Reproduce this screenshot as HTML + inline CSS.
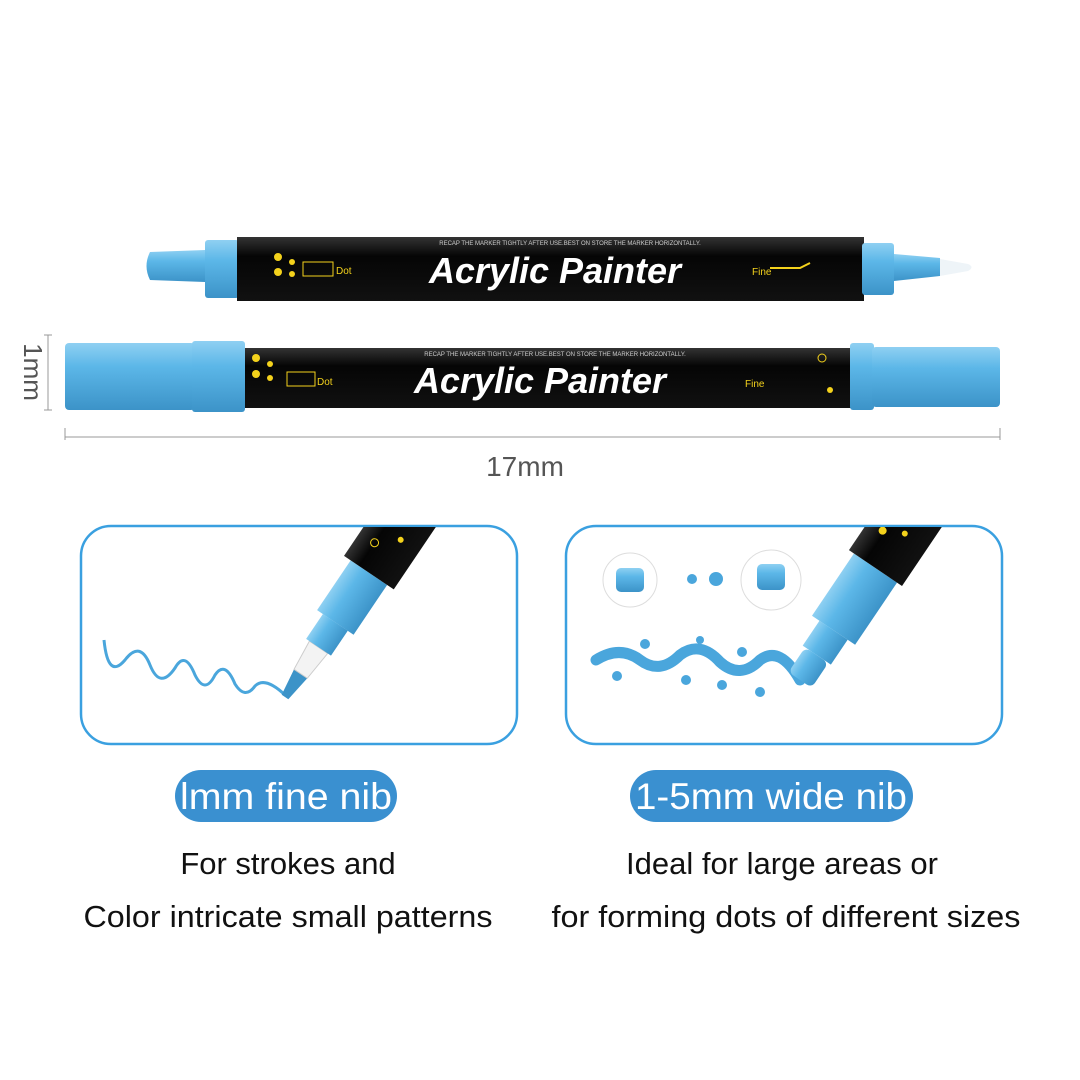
<!DOCTYPE html>
<html><head><meta charset="utf-8"><style>
body{margin:0;background:#fff;}
svg{display:block;}
text{font-family:"Liberation Sans",sans-serif;}
</style></head><body>
<svg width="1080" height="1080" viewBox="0 0 1080 1080" xmlns="http://www.w3.org/2000/svg">
<defs>
<linearGradient id="cap" x1="0" y1="0" x2="0" y2="1">
<stop offset="0" stop-color="#8fd0f2"/><stop offset="0.35" stop-color="#5cb7e8"/><stop offset="1" stop-color="#3c93c8"/></linearGradient>
<linearGradient id="blk" x1="0" y1="0" x2="0" y2="1">
<stop offset="0" stop-color="#333"/><stop offset="0.3" stop-color="#050505"/><stop offset="1" stop-color="#111"/></linearGradient>
<clipPath id="c1"><rect x="0" y="527" width="1080" height="300"/></clipPath>
</defs>
<rect width="1080" height="1080" fill="#fff"/>

<!-- top marker -->
<path d="M150 252 Q143 266 150 280 L205 282 L205 250 Z" fill="url(#cap)"/>
<rect x="205" y="240" width="34" height="58" rx="3" fill="url(#cap)"/>
<rect x="237" y="237" width="627" height="64" fill="url(#blk)"/>
<rect x="862" y="243" width="32" height="52" rx="3" fill="url(#cap)"/>
<path d="M894 254 L940 258 L940 276 L894 281 Z" fill="url(#cap)"/>
<path d="M940 259 L968 264 Q975 267 968 271 L940 276 Z" fill="#eef4f8"/>
<text x="570" y="245" font-size="6" fill="#ccc" text-anchor="middle">RECAP THE MARKER TIGHTLY AFTER USE.BEST ON STORE THE MARKER HORIZONTALLY.</text>
<text x="555" y="283" font-size="36" fill="#fff" font-style="italic" font-family="Liberation Serif" font-weight="bold" text-anchor="middle">Acrylic Painter</text>
<circle cx="278" cy="257" r="4" fill="#f4d21c"/><circle cx="292" cy="262" r="3" fill="#f4d21c"/><circle cx="278" cy="272" r="4" fill="#f4d21c"/><circle cx="292" cy="274" r="3" fill="#f4d21c"/>
<rect x="303" y="262" width="30" height="14" fill="none" stroke="#f4d21c"/><text x="336" y="274" font-size="10" fill="#f4d21c">Dot</text>
<text x="752" y="275" font-size="10" fill="#f4d21c">Fine</text>
<path d="M770 268 L800 268 L810 263" stroke="#f4d21c" fill="none" stroke-width="2"/>

<!-- second marker -->
<rect x="65" y="343" width="130" height="67" rx="4" fill="url(#cap)"/>
<rect x="192" y="341" width="53" height="71" rx="3" fill="url(#cap)"/>
<rect x="245" y="348" width="607" height="60" fill="url(#blk)"/>
<rect x="850" y="343" width="24" height="67" rx="3" fill="url(#cap)"/>
<rect x="872" y="347" width="128" height="60" rx="4" fill="url(#cap)"/>
<text x="555" y="356" font-size="6" fill="#ccc" text-anchor="middle">RECAP THE MARKER TIGHTLY AFTER USE.BEST ON STORE THE MARKER HORIZONTALLY.</text>
<text x="540" y="393" font-size="36" fill="#fff" font-style="italic" font-family="Liberation Serif" font-weight="bold" text-anchor="middle">Acrylic Painter</text>
<circle cx="256" cy="358" r="4" fill="#f4d21c"/><circle cx="270" cy="364" r="3" fill="#f4d21c"/><circle cx="256" cy="374" r="4" fill="#f4d21c"/><circle cx="270" cy="378" r="3" fill="#f4d21c"/>
<rect x="287" y="372" width="28" height="14" fill="none" stroke="#f4d21c"/><text x="317" y="385" font-size="10" fill="#f4d21c">Dot</text>
<text x="745" y="387" font-size="10" fill="#f4d21c">Fine</text>
<circle cx="822" cy="358" r="4" fill="none" stroke="#f4d21c"/><circle cx="830" cy="390" r="3" fill="#f4d21c"/>

<!-- dimensions -->
<path d="M48 335 L48 410 M44 335 L52 335 M44 410 L52 410" stroke="#999" stroke-width="1"/>
<text x="0" y="0" transform="translate(24,372) rotate(90)" font-size="26" fill="#555" text-anchor="middle">1mm</text>
<path d="M65 437 L1000 437 M65 428 L65 440 M1000 428 L1000 440" stroke="#999" stroke-width="1"/>
<text x="525" y="476" font-size="28" fill="#555" text-anchor="middle">17mm</text>

<!-- boxes -->
<rect x="81" y="526" width="436" height="218" rx="30" fill="none" stroke="#3aa0e0" stroke-width="2.5"/>
<rect x="566" y="526" width="436" height="218" rx="30" fill="none" stroke="#3aa0e0" stroke-width="2.5"/>

<!-- left box pen -->
<path d="M104 640 Q108 680 125 660 Q140 640 150 665 Q160 690 175 668 Q185 650 195 675 Q205 695 215 675 Q225 660 235 684 Q245 700 255 686 Q265 676 285 695" stroke="#4aa6dc" stroke-width="3" fill="none"/>
<g clip-path="url(#c1)">
<g transform="translate(285,697) rotate(-56)">
<path d="M0 -4 L28 -8 L28 8 L0 4 Z" fill="#3c93c8"/>
<path d="M28 -8 L60 -11 L60 11 L28 8 Z" fill="#f3f3f3" stroke="#ccc"/>
<rect x="60" y="-15" width="30" height="30" fill="url(#cap)"/>
<rect x="90" y="-22" width="60" height="44" fill="url(#cap)"/>
<rect x="150" y="-30" width="120" height="60" fill="url(#blk)"/>
<circle cx="178" cy="-12" r="4" fill="none" stroke="#f4d21c"/>
<circle cx="195" cy="8" r="3" fill="#f4d21c"/>
</g>
</g>

<!-- right box -->
<circle cx="630" cy="580" r="27" fill="#fff" stroke="#ddd"/><rect x="616" y="568" width="28" height="24" rx="5" fill="url(#cap)"/>
<circle cx="771" cy="580" r="30" fill="#fff" stroke="#ddd"/><rect x="757" y="564" width="28" height="26" rx="5" fill="url(#cap)"/>
<circle cx="692" cy="579" r="5" fill="#4aa6dc"/><circle cx="716" cy="579" r="7" fill="#4aa6dc"/>
<path d="M596 660 Q620 645 640 660 Q660 675 680 655 Q700 640 720 662 Q740 680 760 660 Q780 645 800 680" stroke="#4aa6dc" stroke-width="11" fill="none" stroke-linecap="round"/>
<circle cx="617" cy="676" r="5" fill="#4aa6dc"/><circle cx="645" cy="644" r="5" fill="#4aa6dc"/><circle cx="686" cy="680" r="5" fill="#4aa6dc"/><circle cx="700" cy="640" r="4" fill="#4aa6dc"/><circle cx="722" cy="685" r="5" fill="#4aa6dc"/><circle cx="742" cy="652" r="5" fill="#4aa6dc"/><circle cx="760" cy="692" r="5" fill="#4aa6dc"/>
<g clip-path="url(#c1)">
<g transform="translate(800,680) rotate(-56)">
<rect x="0" y="-14" width="30" height="28" rx="6" fill="url(#cap)"/>
<rect x="30" y="-17" width="30" height="34" fill="url(#cap)"/>
<rect x="60" y="-26" width="75" height="52" fill="url(#cap)"/>
<rect x="135" y="-32" width="120" height="64" fill="url(#blk)"/>
<circle cx="170" cy="-15" r="4" fill="#f4d21c"/><circle cx="180" cy="5" r="3" fill="#f4d21c"/>
</g>
</g>

<!-- pills -->
<rect x="175" y="770" width="222" height="52" rx="26" fill="#3a90d0"/>
<text x="286" y="809" font-size="37" fill="#fff" text-anchor="middle" textLength="212" lengthAdjust="spacingAndGlyphs">lmm fine nib</text>
<rect x="630" y="770" width="283" height="52" rx="26" fill="#3a90d0"/>
<text x="771" y="809" font-size="37" fill="#fff" text-anchor="middle" textLength="272" lengthAdjust="spacingAndGlyphs">1-5mm wide nib</text>

<text x="288" y="874" font-size="31" fill="#111" text-anchor="middle">For strokes and</text>
<text x="288" y="927" font-size="31" fill="#111" text-anchor="middle" textLength="409" lengthAdjust="spacingAndGlyphs">Color intricate small patterns</text>
<text x="782" y="874" font-size="31" fill="#111" text-anchor="middle">Ideal for large areas or</text>
<text x="786" y="927" font-size="31" fill="#111" text-anchor="middle" textLength="469" lengthAdjust="spacingAndGlyphs">for forming dots of different sizes</text>
</svg>
</body></html>
